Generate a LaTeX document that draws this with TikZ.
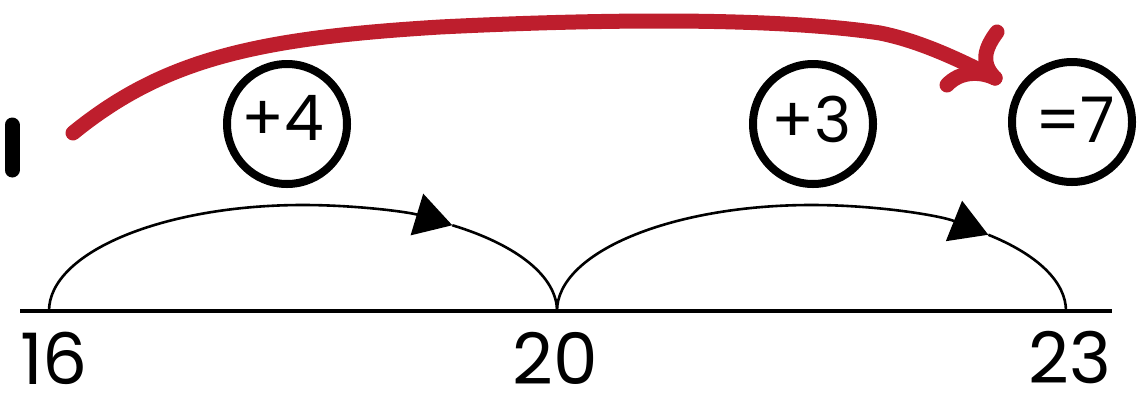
\documentclass[tikz,border=0pt]{standalone}
\usepackage{fontspec}
\setmainfont{Poppins}
\usetikzlibrary{arrows.meta}
\definecolor{redarrow}{HTML}{BE1E2D}
\begin{document}
\begin{tikzpicture}[x=0.5pt,y=0.5pt,
  ring/.style={draw=black,line width=4pt,circle,minimum size=60pt,inner sep=0pt},
  ringtxt/.style={inner sep=0pt,font=\fontsize{31.5}{34}\selectfont},
  numtxt/.style={inner sep=0pt,font=\fontsize{35.5}{40}\selectfont},
  jump/.style={line width=1.3pt},
  jumptip/.style={-{Triangle[length=18.5pt,width=21.5pt]}},
  redpen/.style={draw=redarrow,line width=7.5pt,line cap=round}]
\useasboundingbox (0,0) rectangle (1145,393);
% number line
\coordinate (L) at (20,82);
\coordinate (R) at (1112,82);
\draw[line width=1.7pt] (L) -- (R);
\coordinate (p16) at (49,82);
\coordinate (p20) at (557,82);
\coordinate (p23) at (1066,82);
\node[numtxt] (n16) at (54,35) {16};
\node[numtxt] (n20) at (555,35) {20};
\node[numtxt] (n23) at (1070,35) {23};
% jumps
\draw[jump,jumptip] (p16) arc[start angle=180,end angle=54,x radius=254,y radius=106] coordinate (a1);
\draw[jump] (a1) arc[start angle=54,end angle=0,x radius=254,y radius=106];
\draw[jump,jumptip] (p20) arc[start angle=180,end angle=46,x radius=254.5,y radius=106] coordinate (a2);
\draw[jump] (a2) arc[start angle=46,end angle=0,x radius=254.5,y radius=106];
% circles
\node[ring] (c1) at (287,269) {};
\node[ringtxt] (t1) at (282.5,275.5) {+4};
\node[ring] (c2) at (813,269) {};
\node[ringtxt] (t2) at (812,274) {+3};
\node[ring] (c3) at (1072,271) {};
\node[ringtxt] (t3) at (1075,273) {=7};
% black mark
\coordinate (m1) at (12,268);
\coordinate (m2) at (12,223);
\draw[line width=7.5pt,line cap=round] (m1) -- (m2);
% red arrow
\coordinate (rs) at (73,260);
\coordinate (re) at (995,315);
\draw[redpen] (rs) .. controls (165,335) and (260,355) .. (440,366)
  .. controls (560,372) and (760,378) .. (880,360)
  .. controls (920,352) and (960,333) .. (re);
\coordinate (h1) at (997,361);
\coordinate (h2) at (947,308);
\draw[redpen] (h1) .. controls (985,345) and (980,330) .. (re);
\draw[redpen] (h2) .. controls (960,322) and (980,322) .. (re);
\end{tikzpicture}
\end{document}
